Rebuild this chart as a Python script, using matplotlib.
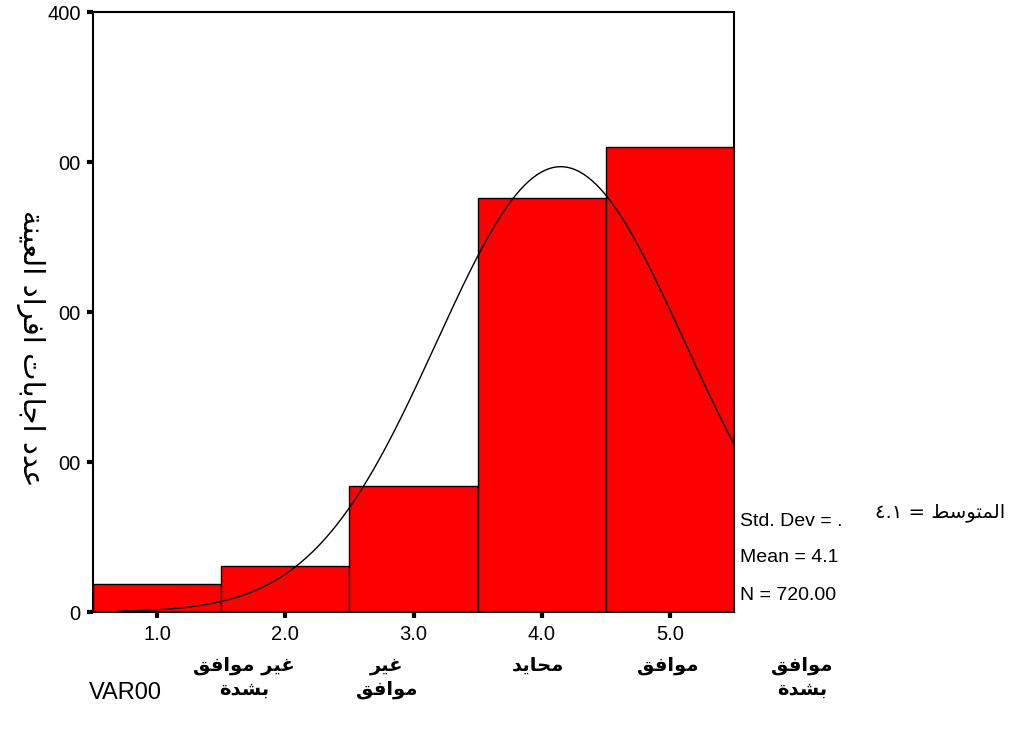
import numpy as np
import matplotlib
matplotlib.use('Agg')
import matplotlib.pyplot as plt

# histogram data (counts per answer value)
values = [1, 2, 3, 4, 5]
counts = [19, 31, 84, 276, 310]
tick_labels = ['1.0', '2.0', '3.0', '4.0', '5.0']
yticks = [0, 100, 200, 300, 400]
ytick_labels = ['0', '00', '00', '00', '400']
cat_labels = ['غير موافق\nبشدة', 'غير\nموافق', 'محايد', 'موافق', 'موافق\nبشدة']
cat_pos = [1.68, 2.79, 3.97, 4.98, 6.03]
ylabel = 'عدد اجابات افراد العينة'
mean_label = 'المتوسط'

# Arabic presentation forms: isolated, final, initial, medial
FORMS = {
    'ا': (0xFE8D, 0xFE8E, None, None),
    'ب': (0xFE8F, 0xFE90, 0xFE91, 0xFE92),
    'ة': (0xFE93, 0xFE94, None, None),
    'ت': (0xFE95, 0xFE96, 0xFE97, 0xFE98),
    'ج': (0xFE9D, 0xFE9E, 0xFE9F, 0xFEA0),
    'ح': (0xFEA1, 0xFEA2, 0xFEA3, 0xFEA4),
    'د': (0xFEA9, 0xFEAA, None, None),
    'ر': (0xFEAD, 0xFEAE, None, None),
    'س': (0xFEB1, 0xFEB2, 0xFEB3, 0xFEB4),
    'ش': (0xFEB5, 0xFEB6, 0xFEB7, 0xFEB8),
    'ط': (0xFEC1, 0xFEC2, 0xFEC3, 0xFEC4),
    'ع': (0xFEC9, 0xFECA, 0xFECB, 0xFECC),
    'غ': (0xFECD, 0xFECE, 0xFECF, 0xFED0),
    'ف': (0xFED1, 0xFED2, 0xFED3, 0xFED4),
    'ق': (0xFED5, 0xFED6, 0xFED7, 0xFED8),
    'ل': (0xFEDD, 0xFEDE, 0xFEDF, 0xFEE0),
    'م': (0xFEE1, 0xFEE2, 0xFEE3, 0xFEE4),
    'ن': (0xFEE5, 0xFEE6, 0xFEE7, 0xFEE8),
    'و': (0xFEED, 0xFEEE, None, None),
    'ي': (0xFEF1, 0xFEF2, 0xFEF3, 0xFEF4),
}


def shape_line(text):
    out = []
    for i, ch in enumerate(text):
        if ch not in FORMS:
            out.append(ch)
            continue
        prev = text[i - 1] if i > 0 else None
        nxt = text[i + 1] if i + 1 < len(text) else None
        join_prev = prev in FORMS and FORMS[prev][2] is not None
        join_next = nxt in FORMS and FORMS[ch][2] is not None
        iso, fin, ini, med = FORMS[ch]
        if join_prev and join_next:
            c = med
        elif join_prev:
            c = fin
        elif join_next:
            c = ini
        else:
            c = iso
        out.append(chr(c))
    return ''.join(reversed(out))


def shape(text):
    return '\n'.join(shape_line(l) for l in text.split('\n'))


FAM = ['Liberation Sans', 'DejaVu Sans']
plt.rcParams['font.family'] = FAM

fig = plt.figure(figsize=(10.21, 7.30), dpi=100)
W, H = 1021, 730


def fx(px):
    return px / W


def fy(py):
    return 1 - py / H


ax = fig.add_axes([fx(93), fy(612), fx(734) - fx(93), fy(12) - fy(612)])
ax.bar(values, counts, width=1.0, color='#ff0000', edgecolor='black', linewidth=1)

# normal curve fitted to the histogram
n = sum(counts)
mean = np.dot(values, counts) / n
sd = np.sqrt((np.dot(np.square(values), counts) - n * mean ** 2) / (n - 1))
xs = np.linspace(0.7, 5.5, 300)
ys = n / (sd * np.sqrt(2 * np.pi)) * np.exp(-0.5 * ((xs - mean) / sd) ** 2)
ax.plot(xs, ys, color='black', linewidth=1)

ax.set_xlim(0.5, 5.5)
ax.set_ylim(0, 400)
ax.set_yticks(yticks)
ax.set_yticklabels(ytick_labels, fontsize=14.5)
ax.set_xticks(values)
ax.set_xticklabels(tick_labels, fontsize=14.5)
ax.tick_params(direction='out', length=4, width=3, pad=5)
for s in ax.spines.values():
    s.set_linewidth(1.5)

# category labels under the ticks
for lab, p in zip(cat_labels, cat_pos):
    ax.text(p, -0.073, shape(lab), transform=ax.get_xaxis_transform(),
            ha='center', va='top', fontsize=14, fontweight='bold',
            family=['DejaVu Sans'], linespacing=1.3)

fig.text(fx(89), fy(693), 'VAR00', fontsize=17, ha='left', va='center')
fig.text(fx(30), fy(348), shape(ylabel), rotation=270, fontsize=21,
         ha='center', va='center', family=['DejaVu Sans'])

# summary statistics
fig.text(fx(740), fy(522), 'Std. Dev = .', fontsize=14, va='center')
fig.text(fx(740), fy(558), 'Mean = 4.1', fontsize=14, va='center')
fig.text(fx(740), fy(596), 'N = 720.00', fontsize=14, va='center')
fig.text(fx(1005), fy(512), '٤.١ = ' + shape(mean_label), fontsize=14,
         ha='right', va='center', family=['DejaVu Sans'])

fig.savefig('out.png', dpi=100)
